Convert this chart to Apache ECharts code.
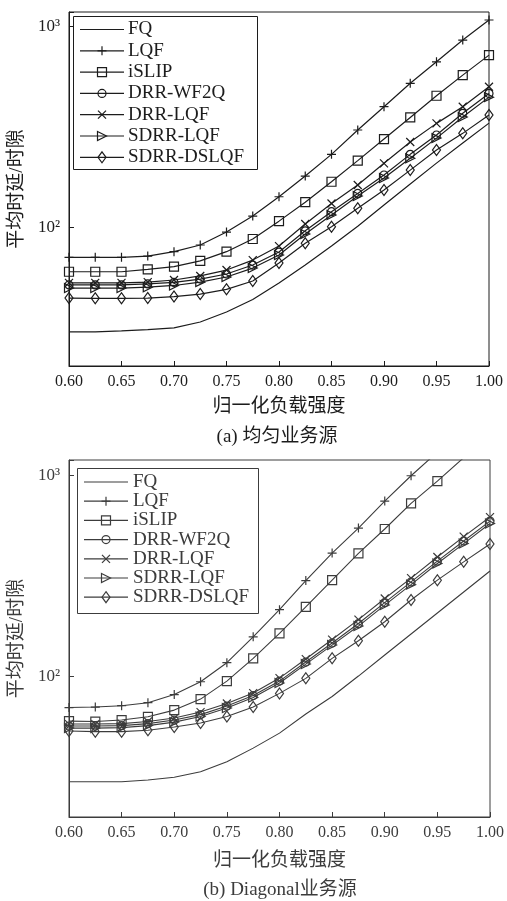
<!DOCTYPE html>
<html>
<head>
<meta charset="utf-8">
<script src="https://cdn.jsdelivr.net/npm/echarts@6/dist/echarts.min.js"></script>
<style>
  html, body { margin: 0; padding: 0; background: #ffffff; }
  #chart { width: 507px; height: 901px; }
</style>
</head>
<body>
<div id="chart"></div>
<script>
// Normalised offered load (x axis)
const loads = [0.60, 0.625, 0.65, 0.675, 0.70, 0.725, 0.75, 0.775, 0.80,
               0.825, 0.85, 0.875, 0.90, 0.925, 0.95, 0.975, 1.00];

const seriesNames = ['FQ', 'LQF', 'iSLIP', 'DRR-WF2Q', 'DRR-LQF', 'SDRR-LQF', 'SDRR-DSLQF'];

// (a) uniform traffic: average delay in slots
const fqA      = [30.1, 30.1, 30.4, 30.9, 31.5, 33.7, 37.8, 43.6, 52.7, 64.7, 80.4, 101, 128.6, 163.6, 208, 262, 329];
const lqfA     = [70.7, 70.7, 70.7, 71.7, 75.4, 81.4, 94.4, 113.4, 141.5, 179.4, 230, 304, 397, 519, 664, 852, 1072];
const islipA   = [59.9, 59.9, 59.9, 61.6, 63.5, 67.9, 75.4, 87.2, 107, 133, 168, 214, 274, 351, 450, 570, 717];
const wf2qA    = [51.5, 51.5, 51.5, 52.1, 53.0, 55.1, 58.4, 64.7, 75.1, 95.8, 119.2, 147, 181.5, 230, 287, 368, 462];
const drrLqfA  = [52.7, 52.7, 52.7, 53.2, 54.5, 57.1, 61.1, 68.5, 80.4, 103.5, 131, 161.8, 207.5, 265, 328, 397, 499];
const sdrrLqfA = [49.7, 49.7, 49.7, 50.2, 51.2, 53.2, 56.4, 62.5, 72.6, 92.3, 114.8, 142.7, 175.4, 220, 277, 353, 443];
const dslqfA   = [44.3, 44.2, 44.2, 44.3, 45.1, 46.4, 49.0, 53.9, 66.2, 83, 100.3, 124, 152.8, 192, 241.5, 292.5, 361];

// (b) diagonal traffic: average delay in slots (null = beyond the plotted range)
const fqB      = [29.8, 29.8, 29.8, 30.4, 31.4, 33.4, 37.5, 43.8, 52.0, 64.7, 79.1, 100, 127.2, 161.8, 205.8, 261.8, 333];
const lqfB     = [69.7, 70.1, 71.2, 73.7, 80.9, 93.7, 116.5, 156.8, 213.8, 298.6, 409, 545, 742, 992, 1300, null, null];
const islipB   = [59.7, 59.4, 60.4, 62.7, 67.7, 76.8, 94.4, 122.5, 163, 221, 300, 408, 539, 723, 933, 1220, null];
const wf2qB    = [56.4, 56.4, 56.7, 58.0, 60.4, 64.3, 70.9, 80.0, 94.4, 117.4, 146, 182.5, 232, 294, 373, 470, 590];
const drrLqfB  = [57.7, 57.7, 58.0, 59.4, 61.8, 66.2, 73.0, 82.3, 97.7, 121.5, 151.9, 191, 243, 307, 391, 494, 618];
const sdrrLqfB = [55.1, 55.1, 55.4, 56.7, 59.0, 62.9, 69.3, 78.2, 92.3, 114.7, 142.6, 177.3, 225.5, 285, 363, 456, 574];
const dslqfB   = [53.3, 52.9, 52.9, 53.8, 55.8, 58.4, 62.9, 70.1, 82.0, 97.4, 122.5, 149.8, 186.3, 239, 300, 370, 454];

const xTitle = '归一化负载强度';
const yTitle = '平均时延/时隙';
const captionA = '(a) 均匀业务源';
const captionB = '(b) Diagonal业务源';

const FONT = '"Liberation Serif", "Noto Sans CJK SC", serif';

// marker shapes, in legend order
const markers = [
  { symbol: 'none', size: 0 },
  { symbol: 'path://M5,0L5,10M0,5L10,5', size: 9 },
  { symbol: 'rect', size: 9 },
  { symbol: 'circle', size: 8 },
  { symbol: 'path://M0,0L10,10M10,0L0,10', size: 8 },
  { symbol: 'path://M0,0L10,5L0,10Z', size: 9 },
  { symbol: 'diamond', size: [8, 11] }
];

const SUP = { 1: '¹', 2: '²', 3: '³', 4: '⁴' };

function buildSeries(dataSets, gridIndex, color, width) {
  return dataSets.map((vals, k) => ({
    name: seriesNames[k],
    type: 'line',
    xAxisIndex: gridIndex,
    yAxisIndex: gridIndex,
    data: loads.map((x, i) => [x, vals[i]]),
    symbol: markers[k].symbol,
    symbolSize: markers[k].size,
    showSymbol: markers[k].symbol !== 'none',
    clip: true,
    lineStyle: { color: color, width: width },
    itemStyle: { color: 'rgba(0,0,0,0)', borderColor: color, borderWidth: 1.2 },
    emphasis: { disabled: true },
    z: 3
  }));
}

function xAxisOf(gridIndex, color, nameGap) {
  return {
    type: 'value', gridIndex: gridIndex,
    min: 0.6, max: 1.0, interval: 0.05,
    axisLine: { lineStyle: { color: color, width: 1 } },
    axisTick: { inside: true, length: 5, lineStyle: { color: color } },
    axisLabel: { formatter: v => v.toFixed(2), fontFamily: FONT, fontSize: 16, color: color, margin: 8 },
    splitLine: { show: false },
    name: xTitle, nameLocation: 'middle', nameGap: nameGap,
    nameTextStyle: { fontFamily: FONT, fontSize: 19, color: color }
  };
}

function yAxisOf(gridIndex, color, min, max) {
  return {
    type: 'log', logBase: 10, gridIndex: gridIndex,
    min: min, max: max,
    axisLine: { lineStyle: { color: color, width: 1 } },
    axisTick: { inside: true, length: 5, lineStyle: { color: color } },
    minorTick: { show: false },
    splitLine: { show: false },
    axisLabel: {
      formatter: v => {
        const l = Math.log10(v);
        const r = Math.round(l);
        return Math.abs(l - r) < 1e-6 ? '10' + (SUP[r] || '') : '';
      },
      fontFamily: FONT, fontSize: 17, color: color, margin: 9
    },
    name: yTitle, nameLocation: 'middle', nameGap: 37, nameRotate: 90,
    nameTextStyle: { fontFamily: FONT, fontSize: 19, color: color }
  };
}

// one legend sample marker, centred on (cx, cy)
function markerShape(k, cx, cy, color) {
  const st = { fill: 'none', stroke: color, lineWidth: 1.2 };
  switch (k) {
    case 1: return [
      { type: 'line', shape: { x1: cx - 4.5, y1: cy, x2: cx + 4.5, y2: cy }, style: st },
      { type: 'line', shape: { x1: cx, y1: cy - 4.5, x2: cx, y2: cy + 4.5 }, style: st }];
    case 2: return [{ type: 'rect', shape: { x: cx - 4.5, y: cy - 4.5, width: 9, height: 9 }, style: st }];
    case 3: return [{ type: 'circle', shape: { cx: cx, cy: cy, r: 4 }, style: st }];
    case 4: return [
      { type: 'line', shape: { x1: cx - 4, y1: cy - 4, x2: cx + 4, y2: cy + 4 }, style: st },
      { type: 'line', shape: { x1: cx + 4, y1: cy - 4, x2: cx - 4, y2: cy + 4 }, style: st }];
    case 5: return [{ type: 'polygon', shape: { points: [[cx - 4.5, cy - 4.5], [cx + 4.5, cy], [cx - 4.5, cy + 4.5]] }, style: st }];
    case 6: return [{ type: 'polygon', shape: { points: [[cx, cy - 5.5], [cx + 4, cy], [cx, cy + 5.5], [cx - 4, cy]] }, style: st }];
    default: return [];
  }
}

function legendBox(box, firstY, stepY, lineX, textX, color) {
  const els = [{ type: 'rect', shape: box, style: { fill: 'none', stroke: color, lineWidth: 1 }, z: 10 }];
  seriesNames.forEach((name, k) => {
    const cy = firstY + k * stepY;
    els.push({ type: 'line', shape: { x1: lineX, y1: cy, x2: lineX + 44, y2: cy }, style: { stroke: color, lineWidth: 1.2 }, z: 10 });
    markerShape(k, lineX + 22, cy, color).forEach(m => { m.z = 11; els.push(m); });
    els.push({ type: 'text', x: textX, y: cy, z: 10,
      style: { text: name, font: '19px ' + FONT, fill: color, align: 'left', verticalAlign: 'middle' } });
  });
  return els;
}

const cA = '#1c1c1c';
const cB = '#3c3c3c';

const chart = echarts.init(document.getElementById('chart'), null, { renderer: 'canvas' });

chart.setOption({
  animation: false,
  backgroundColor: '#ffffff',
  grid: [
    { left: 67, top: 12, width: 422, height: 354, show: true, borderColor: cA, borderWidth: 1, backgroundColor: 'transparent' },
    { left: 67, top: 460, width: 428, height: 357, show: true, borderColor: cB, borderWidth: 1, backgroundColor: 'transparent' }
  ],
  xAxis: [xAxisOf(0, cA, 32), xAxisOf(1, cB, 35)],
  yAxis: [yAxisOf(0, cA, 20.35, 1175), yAxisOf(1, cB, 19.9, 1188)],
  graphic: [
    ...legendBox({ x: 73.5, y: 16.5, width: 184, height: 153 }, 29.5, 21.3, 80, 128, cA),
    ...legendBox({ x: 77.5, y: 468.5, width: 181, height: 145 }, 482, 19.2, 84, 133, cB),
    { type: 'text', x: 277, y: 437, style: { text: captionA, font: '19px ' + FONT, fill: cA, align: 'center', verticalAlign: 'middle' } },
    { type: 'text', x: 280, y: 890, style: { text: captionB, font: '19px ' + FONT, fill: cB, align: 'center', verticalAlign: 'middle' } }
  ],
  series: [
    ...buildSeries([fqA, lqfA, islipA, wf2qA, drrLqfA, sdrrLqfA, dslqfA], 0, cA, 1.2),
    ...buildSeries([fqB, lqfB, islipB, wf2qB, drrLqfB, sdrrLqfB, dslqfB], 1, cB, 1.1)
  ]
});
</script>
</body>
</html>
